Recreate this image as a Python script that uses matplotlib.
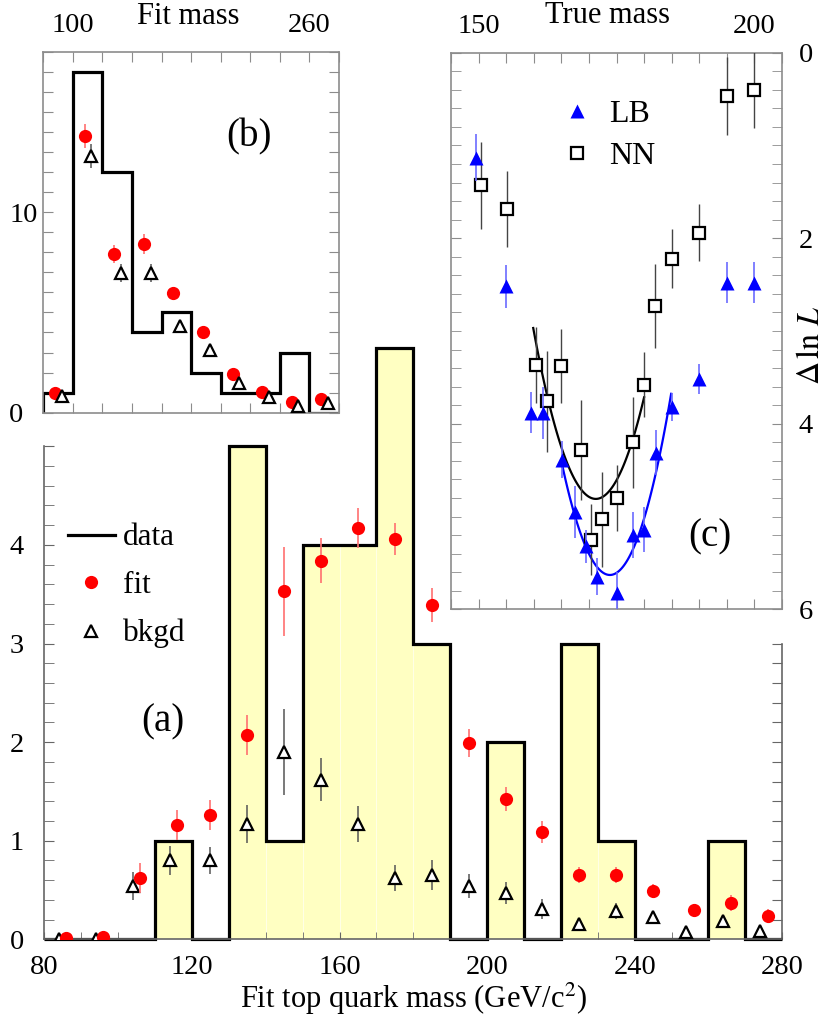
import numpy as np
import matplotlib
matplotlib.use('Agg')
import matplotlib.pyplot as plt
from matplotlib.lines import Line2D

plt.rcParams['font.family'] = ['Liberation Serif', 'DejaVu Serif']
plt.rcParams['mathtext.fontset'] = 'stix'

# (a) main histogram: fit top quark mass, 10 GeV bins
edges_a = np.arange(80, 281, 10)
data_a = [0, 0, 0, 1, 0, 5, 1, 4, 4, 6, 3, 0, 2, 0, 3, 1, 0, 0, 1, 0]
fit_x = [86, 96, 106, 116, 125, 135, 145, 155, 165, 175, 185, 195, 205, 215, 225, 235, 245, 256, 266, 276]
fit_y = [0.01, 0.02, 0.62, 1.16, 1.26, 2.07, 3.53, 3.84, 4.17, 4.06, 3.39, 1.99, 1.42, 1.09, 0.65, 0.65, 0.49, 0.30, 0.37, 0.24]
fit_e = [0.02, 0.02, 0.15, 0.15, 0.15, 0.20, 0.45, 0.23, 0.20, 0.16, 0.17, 0.14, 0.12, 0.11, 0.08, 0.08, 0.07, 0.06, 0.08, 0.07]
bkg_x = [84, 94, 104, 114, 125, 135, 145, 155, 165, 175, 185, 195, 205, 215, 225, 235, 245, 254, 264, 274]
bkg_y = [0.0, 0.0, 0.54, 0.80, 0.80, 1.17, 1.90, 1.62, 1.17, 0.62, 0.65, 0.54, 0.47, 0.31, 0.16, 0.29, 0.23, 0.07, 0.19, 0.08]
bkg_e = [0.01, 0.01, 0.14, 0.15, 0.14, 0.19, 0.44, 0.22, 0.18, 0.13, 0.15, 0.12, 0.11, 0.10, 0.06, 0.08, 0.06, 0.04, 0.06, 0.04]

# (b) inset: fit mass, 20 GeV bins
edges_b = np.arange(80, 281, 20)
data_b = [1, 17, 12, 4, 5, 2, 1, 1, 3, 0]
fitb_x = [88, 108, 128, 148, 168, 188, 208, 228, 248, 268]
fitb_y = [0.96, 13.8, 7.9, 8.4, 5.95, 4.04, 1.93, 1.05, 0.53, 0.66]
fitb_e = [0.2, 0.6, 0.45, 0.5, 0.25, 0.2, 0.2, 0.2, 0.15, 0.15]
bkgb_x = [92.5, 112.5, 132.5, 152.5, 172.5, 192.5, 212.5, 232.5, 252.5, 272.5]
bkgb_y = [0.83, 12.8, 6.98, 6.98, 4.34, 3.12, 1.5, 0.8, 0.33, 0.5]
bkgb_e = [0.2, 0.62, 0.45, 0.45, 0.2, 0.2, 0.15, 0.15, 0.1, 0.1]

# (c) inset: delta ln L vs true mass
lb_x = [149.5, 155, 159.5, 161.6, 165.1, 167.5, 169.4, 171.5, 175, 178, 180, 182.1, 185, 190, 195, 200]
lb_y = [1.13, 2.52, 3.88, 3.88, 4.39, 4.95, 5.32, 5.65, 5.82, 5.20, 5.14, 4.31, 3.82, 3.52, 2.48, 2.48]
lb_e = [0.25, 0.23, 0.22, 0.28, 0.20, 0.28, 0.18, 0.20, 0.22, 0.25, 0.24, 0.24, 0.15, 0.16, 0.22, 0.22]
nn_x = [150.4, 155.1, 160.4, 162.4, 165, 168.5, 170.4, 172.4, 175, 177.9, 179.9, 182, 185, 190, 195, 200]
nn_y = [1.43, 1.68, 3.37, 3.76, 3.38, 4.28, 5.25, 5.03, 4.80, 4.20, 3.58, 2.73, 2.22, 1.94, 0.47, 0.40]
nn_e = [0.47, 0.41, 0.41, 0.54, 0.40, 0.54, 0.38, 0.51, 0.36, 0.49, 0.35, 0.45, 0.32, 0.31, 0.42, 0.41]
# parabola fits: (centre, minimum, curvature, x from, x to)
nn_fit = (171.25, 4.81, 0.0143, 159.9, 180.0)
lb_fit = (173.8, 5.63, 0.01585, 165.1, 184.9)

yellow = '#ffffc2'
grey = '#8c8c8c'
red = '#ff0000'
blue = '#0000ff'

fig = plt.figure(figsize=(8.3, 10.23), dpi=100)

# ---- main panel (a)
ax = fig.add_axes([0.0534, 0.0818, 0.8891, 0.5976])
ax.bar(edges_a[:-1], data_a, width=10, align='edge', color=yellow,
       edgecolor='#fffff4', linewidth=0.4, zorder=1)
ax.stairs(data_a, edges_a, color='k', linewidth=2.3, zorder=2, clip_on=False)
ax.errorbar(fit_x, fit_y, yerr=fit_e, fmt='o', color=red, ms=9.5, mec='none',
            ecolor='#ff7070', elinewidth=1.2, capsize=0, zorder=4)
ax.errorbar(bkg_x, bkg_y, yerr=bkg_e, fmt='^', mfc='white', mec='k', mew=1.6,
            ms=8.5, ecolor='#555555', elinewidth=1.1, capsize=0, zorder=3)
ax.set_xlim(80, 280)
ax.set_ylim(0, 6.2)
ax.spines['top'].set_visible(False)
ax.spines['right'].set_visible(False)
ax.spines['left'].set_bounds(0, 5)
for s in ['left', 'bottom']:
    ax.spines[s].set_color('#666666')
    ax.spines[s].set_linewidth(1.2)
ax.set_xticks(np.arange(80, 281, 40))
ax.set_xticks(np.arange(80, 281, 10), minor=True)
ax.set_yticks([0, 1, 2, 3, 4, 5], ['0', '1', '2', '3', '4', ''])
ax.set_yticks(np.arange(0, 5.01, 0.2), minor=True)
ax.tick_params(axis='both', which='both', direction='in', color='#666666', labelsize=20.5)
ax.tick_params(axis='x', which='both', length=5, pad=11)
ax.tick_params(axis='y', which='both', length=7, pad=25, right=False)
for lab in ax.get_yticklabels():
    lab.set_horizontalalignment('left')
ax.set_xlabel('Fit top quark mass (GeV/c$^2$)', fontsize=22, labelpad=1)

sec = ax.secondary_yaxis('right')
sec.set_yticks(np.arange(0, 3.01, 0.2))
sec.tick_params(direction='in', length=7, color='#666666', labelright=False)
sec.spines['right'].set_bounds(0, 3)
sec.spines['right'].set_color('#666666')
sec.spines['right'].set_linewidth(1.2)

handles = [Line2D([], [], color='k', lw=2.3),
           Line2D([], [], marker='o', color=red, ls='none', ms=9.5, mec='none'),
           Line2D([], [], marker='^', mfc='white', mec='k', mew=1.6, ms=8.5, ls='none')]
ax.legend(handles, ['data', 'fit', 'bkgd'], loc='center left',
          bbox_to_anchor=(0.0321, 0.578), frameon=False, fontsize=22.5,
          handlelength=1.5, handletextpad=0.26, labelspacing=0.6,
          borderpad=0, borderaxespad=0)
ax.text(112.2, 2.2, '(a)', fontsize=28, ha='center', va='center')

# ---- inset (b)
axb = fig.add_axes([0.0522, 0.5966, 0.3563, 0.3529])
axb.stairs(data_b, edges_b, color='k', linewidth=2.3, zorder=2)
axb.errorbar(fitb_x, fitb_y, yerr=fitb_e, fmt='o', color=red, ms=9.5, mec='none',
             ecolor='#ff7070', elinewidth=1.2, capsize=0, zorder=3)
axb.errorbar(bkgb_x, bkgb_y, yerr=bkgb_e, fmt='^', mfc='white', mec='k', mew=1.6,
             ms=8.5, ecolor='#555555', elinewidth=1.1, capsize=0, zorder=4)
axb.set_xlim(80, 280)
axb.set_ylim(0, 18)
xb = np.arange(80, 281, 20)
axb.set_xticks(xb, [str(v) if v in (100, 260) else '' for v in xb])
yb = np.arange(0, 19, 1)
axb.set_yticks(yb, [str(v) if v in (0, 10) else '' for v in yb])
axb.tick_params(axis='both', direction='in', length=7, color=grey, labelsize=20.5,
                top=True, right=True)
axb.tick_params(axis='x', labeltop=True, labelbottom=False, pad=10)
axb.tick_params(axis='y', pad=24.5)
for lab in axb.get_yticklabels():
    lab.set_horizontalalignment('left')
for s in axb.spines.values():
    s.set_color(grey)
    s.set_linewidth(1.2)
axb.text(0.49, 1.098, 'Fit mass', transform=axb.transAxes, fontsize=22,
         ha='center', va='center')
axb.text(0.696, 0.764, '(b)', transform=axb.transAxes, fontsize=28,
         ha='center', va='center')

# ---- inset (c)
axc = fig.add_axes([0.5434, 0.4044, 0.3988, 0.5441])
for (x0, ymin, a, xa, xb_), col in [(nn_fit, 'k'), (lb_fit, blue)]:
    xs = np.linspace(xa, xb_, 100)
    axc.plot(xs, ymin - a * (xs - x0) ** 2, color=col, lw=1.6, zorder=2)
axc.errorbar(nn_x, nn_y, yerr=nn_e, fmt='s', mfc='white', mec='k', mew=1.6,
             ms=8, ecolor='#444444', elinewidth=1.0, capsize=0, zorder=3)
axc.errorbar(lb_x, lb_y, yerr=lb_e, fmt='^', color=blue, ms=10, mec='none',
             ecolor='#6b6bff', elinewidth=1.2, capsize=0, zorder=4)
axc.set_xlim(145, 205)
axc.set_ylim(6, 0)
xc = np.arange(145, 206, 5)
axc.set_xticks(xc, [str(v) if v in (150, 200) else '' for v in xc])
axc.set_yticks([0, 2, 4, 6], ['0', '2', '4', '6'])
axc.set_yticks(np.arange(0, 6.01, 0.2), minor=True)
axc.tick_params(axis='both', which='both', direction='in', length=7, color=grey,
                labelsize=20.5, top=True, right=True)
axc.tick_params(axis='x', labeltop=True, labelbottom=False, pad=10)
axc.tick_params(axis='y', labelleft=False, labelright=True, pad=12)
for s in axc.spines.values():
    s.set_color(grey)
    s.set_linewidth(1.2)
axc.text(0.474, 1.066, 'True mass', transform=axc.transAxes, fontsize=22,
         ha='center', va='center')
axc.text(1.09, 0.475, r'$\Delta\,\ln\,L$', transform=axc.transAxes, fontsize=23,
         rotation=90, ha='center', va='center')
axc.text(0.782, 0.13, '(c)', transform=axc.transAxes, fontsize=28,
         ha='center', va='center')
hc = [Line2D([], [], marker='^', color=blue, ls='none', ms=10, mec='none'),
      Line2D([], [], marker='s', mfc='white', mec='k', mew=1.6, ms=8, ls='none')]
axc.legend(hc, ['LB', 'NN'], loc='center left', bbox_to_anchor=(0.3335, 0.851),
           frameon=False, fontsize=23, handlelength=1.0, handletextpad=0.5,
           labelspacing=0.4, borderpad=0, borderaxespad=0)

fig.savefig('out.png', dpi=100)
